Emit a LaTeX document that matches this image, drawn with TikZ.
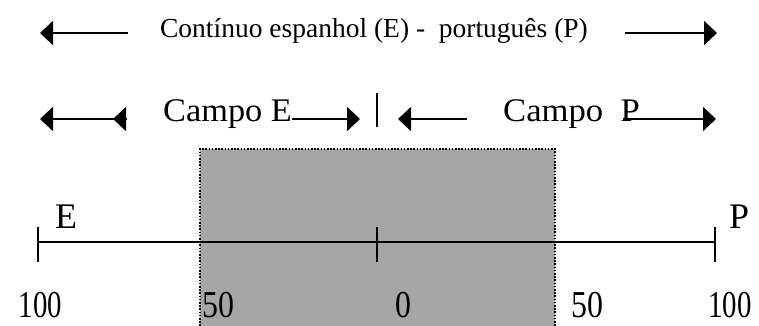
\documentclass[tikz,border=0pt]{standalone}
\usepackage{fontspec}
\setmainfont{Liberation Serif}
\usetikzlibrary{arrows.meta}
\definecolor{shade}{HTML}{A6A6A6}
\begin{document}
\begin{tikzpicture}[x=1pt,y=-1pt,
  txt/.style={inner sep=0pt, anchor=base},
  toptext/.style={txt, font=\fontsize{27.5}{32}\selectfont},
  campo/.style={txt, anchor=base west, font=\fontsize{33}{38}\selectfont},
  numtext/.style={txt, font=\fontsize{38}{44}\selectfont},
  lettext/.style={txt, font=\fontsize{36}{42}\selectfont},
  lineb/.style={line width=1.8pt},
  arr/.style={lineb, -{Triangle[length=13pt,width=24pt]}},
  tickline/.style={line width=2pt},
  zone/.style={fill=shade, draw=none},
  zoneedge/.style={draw=black, line width=1.6pt, dash pattern=on 1.6pt off 1.6pt}]
\useasboundingbox (0,0) rectangle (759,325);

% shaded zone
\fill[zone] (200,149) rectangle (555,326);
\draw[zoneedge] (200,326) -- (200,149) -- (555,149) -- (555,326);

% top row
\coordinate (t1a) at (128,33);
\coordinate (t1b) at (40,33);
\coordinate (t2a) at (625,33);
\coordinate (t2b) at (717,33);
\draw[arr] (t1a) -- (t1b);
\draw[arr] (t2a) -- (t2b);
\node[toptext] (title) at (374,37) {Contínuo espanhol (E) -\ \ português (P)};

% second row
\coordinate (r1a) at (127,119);
\coordinate (r1b) at (40,119);
\coordinate (r1c) at (113,119);
\draw[arr] (r1a) -- (r1b);
\draw[arr] (r1a) -- (r1c);
\node[campo] (campoE) at (163,121) {\scalebox{1.04}[1]{Campo E}};
\coordinate (r2a) at (292,119);
\coordinate (r2b) at (360,119);
\draw[arr] (r2a) -- (r2b);
\coordinate (bar1) at (377,93);
\coordinate (bar2) at (377,127);
\draw[tickline] (bar1) -- (bar2);
\coordinate (r3a) at (467,119);
\coordinate (r3b) at (398,119);
\draw[arr] (r3a) -- (r3b);
\node[campo] (campoP) at (503,121) {\scalebox{1.05}[1]{Campo\ \ P}};
\coordinate (r4a) at (623,119);
\coordinate (r4b) at (716,119);
\draw[arr] (r4a) -- (r4b);

% axis
\coordinate (ax1) at (38,242);
\coordinate (ax0) at (377,242);
\coordinate (ax2) at (715,242);
\draw[lineb] (ax1) -- (ax2);
\foreach \p in {ax1,ax0,ax2} {
  \draw[tickline] ([yshift=15pt]\p) -- ([yshift=-20pt]\p);
}
\node[lettext] (labE) at (66,228) {E};
\node[lettext] (labP) at (739,228) {P};

% scale numbers
\node[numtext] (n1) at (40.5,317) {\scalebox{0.76}[1]{100}};
\node[numtext] (n2) at (218.5,317) {\scalebox{0.84}[1]{50}};
\node[numtext] (n3) at (403,317) {\scalebox{0.84}[1]{0}};
\node[numtext] (n4) at (587.5,317) {\scalebox{0.84}[1]{50}};
\node[numtext] (n5) at (730,317) {\scalebox{0.76}[1]{100}};
\end{tikzpicture}
\end{document}
